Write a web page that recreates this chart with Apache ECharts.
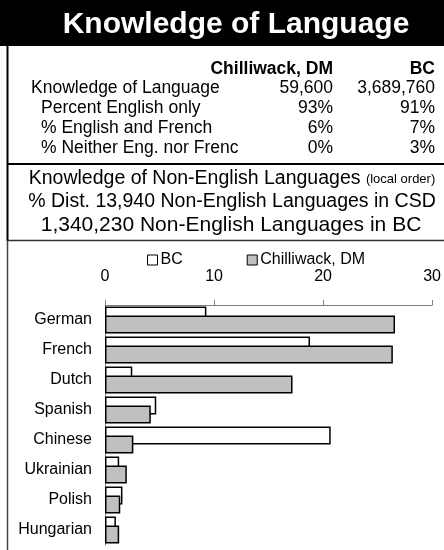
<!DOCTYPE html>
<html>
<head>
<meta charset="utf-8">
<title>Knowledge of Language</title>
<script src="https://cdn.jsdelivr.net/npm/echarts@6/dist/echarts.min.js"></script>
<style>
  html, body { margin: 0; padding: 0; background: #fff; }
  #chart { width: 444px; height: 550px; }
</style>
</head>
<body>
<div id="chart"></div>
<script>
  // table at the top
  var tableRows = ['Knowledge of Language', 'Percent English only', '% English and French', '% Neither Eng. nor French']
  var chilliwackTable = ['59,600', '93%', '6%', '0%']
  var bcTable = ['3,689,760', '91%', '7%', '3%']

  // bar chart
  var languages = ['German', 'French', 'Dutch', 'Spanish', 'Chinese', 'Ukrainian', 'Polish', 'Hungarian']
  var bcPct = [9.3, 18.8, 2.5, 4.7, 20.7, 1.3, 1.6, 1.0]
  var chilliwackPct = [26.6, 26.4, 17.2, 4.2, 2.6, 2.0, 1.4, 1.3]
  var xTicks = [0, 10, 20, 30]

  var font = 'Liberation Sans, Arial, sans-serif'

  var graphics = [
    { type: 'rect', shape: { x: 0, y: 0, width: 444, height: 46 }, style: { fill: '#000' } },
    {
      type: 'text', x: 236, y: 25,
      style: { text: 'Knowledge of Language', fill: '#fff', font: 'bold 30px ' + font, textAlign: 'center', textVerticalAlign: 'middle' }
    },
    {
      type: 'text', x: 333, y: 69,
      style: { text: 'Chilliwack, DM', fill: '#000', font: 'bold 17.5px ' + font, textAlign: 'right', textVerticalAlign: 'middle' }
    },
    {
      type: 'text', x: 435, y: 69,
      style: { text: 'BC', fill: '#000', font: 'bold 17.5px ' + font, textAlign: 'right', textVerticalAlign: 'middle' }
    },
    // borders
    { type: 'line', shape: { x1: 7.5, y1: 46, x2: 7.5, y2: 241 }, style: { stroke: '#000', lineWidth: 2 } },
    { type: 'line', shape: { x1: 7.5, y1: 241, x2: 7.5, y2: 550 }, style: { stroke: '#444', lineWidth: 1.5 } },
    { type: 'line', shape: { x1: 7, y1: 164, x2: 444, y2: 164 }, style: { stroke: '#000', lineWidth: 2 } },
    { type: 'line', shape: { x1: 7, y1: 240.5, x2: 444, y2: 240.5 }, style: { stroke: '#333', lineWidth: 1.5 } },
    // subtitle lines
    {
      type: 'text', x: 232, y: 179,
      style: {
        text: '{a|Knowledge of Non-English Languages }{b|(local order)}',
        textAlign: 'center',
        textVerticalAlign: 'middle',
        rich: {
          a: { fontSize: 19.5, fontFamily: font, fill: '#000' },
          b: { fontSize: 13, fontFamily: font, fill: '#000' }
        }
      }
    },
    {
      type: 'text', x: 232, y: 202,
      style: { text: '% Dist. 13,940 Non-English Languages in CSD', fill: '#000', font: '19.5px ' + font, textAlign: 'center', textVerticalAlign: 'middle' }
    },
    {
      type: 'text', x: 231, y: 225,
      style: { text: '1,340,230 Non-English Languages in BC', fill: '#000', font: '21px ' + font, textAlign: 'center', textVerticalAlign: 'middle' }
    }
  ]

  tableRows.forEach(function (label, i) {
    var y = 88 + i * 20
    graphics.push({
      type: 'text', x: i === 0 ? 31 : 41, y: y,
      style: {
        text: label, fill: '#000', font: '17.5px ' + font, textVerticalAlign: 'middle',
        width: 206, overflow: 'truncate', ellipsis: ''
      }
    })
    graphics.push({
      type: 'text', x: 333, y: y,
      style: { text: chilliwackTable[i], fill: '#000', font: '17.5px ' + font, textAlign: 'right', textVerticalAlign: 'middle' }
    })
    graphics.push({
      type: 'text', x: 435, y: y,
      style: { text: bcTable[i], fill: '#000', font: '17.5px ' + font, textAlign: 'right', textVerticalAlign: 'middle' }
    })
  })

  var chart = echarts.init(document.getElementById('chart'))

  chart.setOption({
    animation: false,
    textStyle: { fontFamily: font },
    graphic: graphics,
    legend: {
      left: 147,
      top: 252,
      padding: 0,
      icon: 'rect',
      itemWidth: 10,
      itemHeight: 10,
      itemGap: 64,
      textStyle: { fontSize: 16, color: '#000', padding: [0, 0, 0, -2] },
      itemStyle: { borderColor: '#000', borderWidth: 1 },
      data: ['BC', 'Chilliwack, DM']
    },
    grid: {
      left: 105,
      top: 305,
      width: 330,
      height: 240,
      containLabel: false
    },
    xAxis: {
      type: 'value',
      position: 'top',
      min: xTicks[0],
      max: xTicks[xTicks.length - 1],
      interval: 10,
      axisLine: { show: true, lineStyle: { color: '#808080', width: 1 } },
      axisTick: { show: true, length: 5, lineStyle: { color: '#808080' } },
      axisLabel: { fontSize: 16, color: '#000', margin: 20 },
      splitLine: { show: false }
    },
    yAxis: {
      type: 'category',
      inverse: true,
      data: languages,
      axisLine: { show: true, lineStyle: { color: '#808080', width: 1 } },
      axisTick: { show: false },
      axisLabel: { fontSize: 16, color: '#000', margin: 13 }
    },
    series: [{
      name: 'BC',
      type: 'bar',
      data: bcPct,
      barWidth: 18,
      barGap: '-50%',
      itemStyle: { color: '#fff', borderColor: '#000', borderWidth: 1.5 }
    }, {
      name: 'Chilliwack, DM',
      type: 'bar',
      data: chilliwackPct,
      barWidth: 18,
      barGap: '-50%',
      itemStyle: { color: '#c0c0c0', borderColor: '#000', borderWidth: 1.5 }
    }]
  })
</script>
</body>
</html>
